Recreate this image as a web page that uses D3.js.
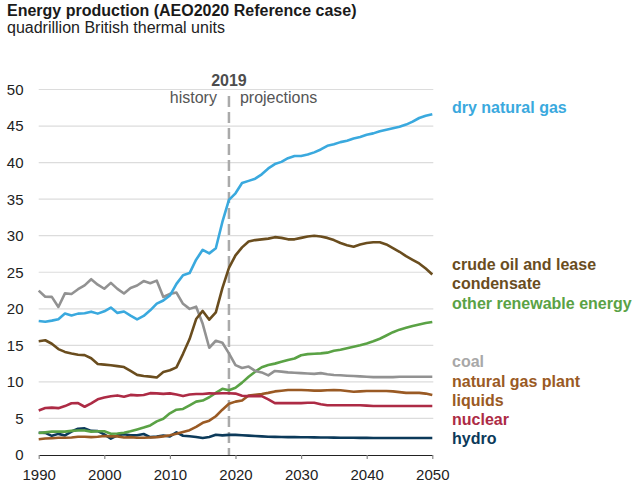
<!DOCTYPE html>
<html>
<head>
<meta charset="utf-8">
<script src="https://cdn.jsdelivr.net/npm/d3@7/dist/d3.min.js"></script>
<style>
  html, body { margin: 0; padding: 0; background: #fff; }
  svg { display: block; font-family: "Liberation Sans", Arial, Helvetica, sans-serif; }
</style>
</head>
<body>
<svg id="chart" width="634" height="490"></svg>
<script>
// ---------- DATA ----------
const years = d3.range(1990, 2051);
const xTickValues = [1990, 2000, 2010, 2020, 2030, 2040, 2050];
const yTickValues = [0, 5, 10, 15, 20, 25, 30, 35, 40, 45, 50];

const dryNaturalGas = [
  18.33, 18.23, 18.38, 18.58, 19.35, 19.08, 19.34, 19.39, 19.61, 19.34,
  19.66, 20.17, 19.44, 19.63, 19.07, 18.56, 19.02, 19.79, 20.70, 21.14,
  21.81, 23.41, 24.59, 24.89, 26.72, 28.07, 27.58, 28.29, 31.88, 34.9,
  35.8, 37.2, 37.5, 37.8, 38.4, 39.2, 39.8, 40.1, 40.6, 40.9,
  40.9, 41.1, 41.4, 41.8, 42.3, 42.5, 42.8, 43.0, 43.3, 43.5,
  43.8, 44.0, 44.3, 44.5, 44.7, 44.9, 45.2, 45.6, 46.1, 46.4, 46.6
];
const crudeOil = [
  15.57, 15.70, 15.22, 14.49, 14.10, 13.89, 13.72, 13.66, 13.24, 12.45,
  12.36, 12.28, 12.16, 12.03, 11.50, 10.96, 10.80, 10.72, 10.61, 11.34,
  11.59, 11.99, 13.84, 15.86, 18.60, 19.71, 18.51, 19.52, 22.83, 25.6,
  27.3, 28.4, 29.2, 29.4, 29.5, 29.6, 29.8, 29.7, 29.5, 29.5,
  29.7, 29.9, 30.0, 29.9, 29.7, 29.4, 29.0, 28.7, 28.5, 28.8,
  29.0, 29.1, 29.1, 28.8, 28.3, 27.8, 27.2, 26.7, 26.2, 25.5, 24.7
];
const otherRenewable = [
  3.0, 3.1, 3.2, 3.2, 3.2, 3.3, 3.35, 3.35, 3.2, 3.25,
  3.25, 2.9, 2.95, 3.05, 3.25, 3.5, 3.75, 4.05, 4.6, 4.95,
  5.7, 6.2, 6.3, 6.8, 7.3, 7.45, 7.9, 8.5, 9.05, 8.85,
  9.2, 9.9, 10.7, 11.4, 12.0, 12.3, 12.5, 12.75, 13.0, 13.2,
  13.65, 13.8, 13.85, 13.9, 14.0, 14.25, 14.4, 14.6, 14.8, 15.0,
  15.25, 15.55, 15.9, 16.35, 16.8, 17.15, 17.4, 17.65, 17.85, 18.05, 18.2
];
const coal = [
  22.49, 21.64, 21.63, 20.25, 22.11, 22.03, 22.68, 23.21, 24.05, 23.30,
  22.74, 23.55, 22.73, 22.09, 22.85, 23.19, 23.79, 23.49, 23.85, 21.62,
  22.04, 22.22, 20.68, 19.99, 20.29, 17.95, 14.67, 15.63, 15.36, 13.9,
  12.3, 11.9, 12.1, 11.5, 11.3, 10.9, 11.5, 11.4, 11.3, 11.25,
  11.2, 11.15, 11.1, 11.2, 11.05, 10.95, 10.9, 10.85, 10.8, 10.75,
  10.7, 10.65, 10.65, 10.65, 10.65, 10.7, 10.7, 10.7, 10.7, 10.7, 10.7
];
const ngPlantLiquids = [
  2.15, 2.25, 2.3, 2.35, 2.35, 2.4, 2.5, 2.5, 2.45, 2.5,
  2.6, 2.55, 2.55, 2.4, 2.45, 2.35, 2.35, 2.4, 2.45, 2.55,
  2.7, 2.9, 3.15, 3.4, 3.85, 4.4, 4.7, 5.3, 6.2, 7.0,
  7.3, 7.45, 8.15, 8.25, 8.35, 8.5, 8.7, 8.8, 8.9, 8.9,
  8.9, 8.85, 8.8, 8.8, 8.85, 8.9, 8.85, 8.75, 8.65, 8.7,
  8.75, 8.75, 8.75, 8.75, 8.7, 8.6, 8.5, 8.5, 8.5, 8.4, 8.2
];
const nuclear = [
  6.10, 6.42, 6.48, 6.41, 6.69, 7.08, 7.09, 6.60, 7.07, 7.61,
  7.86, 8.03, 8.15, 7.96, 8.22, 8.16, 8.21, 8.46, 8.43, 8.36,
  8.43, 8.27, 8.06, 8.27, 8.34, 8.34, 8.43, 8.42, 8.44, 8.45,
  8.4, 8.1, 8.05, 8.05, 8.05, 7.6, 7.1, 7.1, 7.1, 7.1,
  7.1, 7.15, 7.15, 6.95, 6.8, 6.8, 6.8, 6.8, 6.8, 6.8,
  6.75, 6.7, 6.7, 6.7, 6.7, 6.7, 6.7, 6.7, 6.7, 6.7, 6.7
];
const hydro = [
  3.05, 3.02, 2.62, 2.89, 2.68, 3.21, 3.59, 3.64, 3.30, 3.27,
  2.81, 2.24, 2.69, 2.83, 2.69, 2.70, 2.87, 2.45, 2.51, 2.67,
  2.54, 3.10, 2.63, 2.56, 2.47, 2.32, 2.47, 2.77, 2.69, 2.75,
  2.75, 2.7, 2.65, 2.6, 2.55, 2.5, 2.48, 2.46, 2.45, 2.44,
  2.43, 2.42, 2.41, 2.40, 2.39, 2.38, 2.37, 2.36, 2.35, 2.34,
  2.34, 2.33, 2.33, 2.33, 2.33, 2.33, 2.33, 2.33, 2.33, 2.33, 2.33
];
const seriesNames = ["hydro", "natural gas plant liquids", "other renewable energy", "nuclear", "coal", "crude oil and lease condensate", "dry natural gas"];
const seriesValues = [hydro, ngPlantLiquids, otherRenewable, nuclear, coal, crudeOil, dryNaturalGas];
const dividerYear = 2019;

// ---------- STYLE / LAYOUT ----------
const colors = {
  "dry natural gas": "#3aa9de",
  "crude oil and lease condensate": "#6a4d1e",
  "other renewable energy": "#5aa245",
  "coal": "#929292",
  "natural gas plant liquids": "#9a5a24",
  "nuclear": "#ad2b45",
  "hydro": "#0c3a5a"
};
const labelColors = Object.assign({}, colors, { "coal": "#a8a8a8" });
const labelLayout = [
  { key: "dry natural gas", lines: ["dry natural gas"], y: 113 },
  { key: "crude oil and lease condensate", lines: ["crude oil and lease", "condensate"], y: 270 },
  { key: "other renewable energy", lines: ["other renewable energy"], y: 309 },
  { key: "coal", lines: ["coal"], y: 367 },
  { key: "natural gas plant liquids", lines: ["natural gas plant", "liquids"], y: 387 },
  { key: "nuclear", lines: ["nuclear"], y: 425 },
  { key: "hydro", lines: ["hydro"], y: 444 }
];

const svg = d3.select("#chart");
const x = d3.scaleLinear().domain([1990, 2050]).range([38.7, 432.3]);
const y = d3.scaleLinear().domain([0, 50]).range([455, 89.5]);

// title
svg.append("text").attr("x", 7).attr("y", 16)
  .attr("font-size", 16).attr("font-weight", "bold").attr("fill", "#1a1a1a")
  .text("Energy production (AEO2020 Reference case)");
svg.append("text").attr("x", 7).attr("y", 33)
  .attr("font-size", 16).attr("fill", "#222")
  .text("quadrillion British thermal units");

// gridlines
svg.append("g").selectAll("line").data(yTickValues.filter(v => v > 0)).join("line")
  .attr("x1", x(1990)).attr("x2", x(2050) + 1)
  .attr("y1", d => y(d)).attr("y2", d => y(d))
  .attr("stroke", "#dcdcdc").attr("stroke-width", 1.2);

// y tick labels
svg.append("g").selectAll("text").data(yTickValues).join("text")
  .attr("x", 23.5).attr("y", d => y(d)).attr("dy", "0.36em")
  .attr("text-anchor", "end").attr("font-size", 15).attr("fill", "#222")
  .text(d => d);

// x axis
const xAxis = d3.axisBottom(x).tickValues(xTickValues).tickFormat(d3.format("d"))
  .tickSize(4).tickSizeOuter(0).tickPadding(10);
const gx = svg.append("g").attr("transform", `translate(0,${y(0)})`).call(xAxis);
gx.select(".domain").attr("stroke", "#222").attr("stroke-width", 1.2);
gx.selectAll(".tick line").attr("stroke", "#888").attr("stroke-width", 1.2);
gx.selectAll(".tick text").attr("font-size", 15).attr("fill", "#222")
  .attr("font-family", "Liberation Sans, Arial, sans-serif");

// divider
svg.append("line")
  .attr("x1", x(dividerYear)).attr("x2", x(dividerYear))
  .attr("y1", 96).attr("y2", y(0))
  .attr("stroke", "#aaaaaa").attr("stroke-width", 2.5)
  .attr("stroke-dasharray", "11,5");
svg.append("text").attr("x", x(dividerYear)).attr("y", 86)
  .attr("text-anchor", "middle").attr("font-size", 16).attr("font-weight", "bold")
  .attr("fill", "#4d4d4d").text(dividerYear);
svg.append("text").attr("x", x(dividerYear) - 12).attr("y", 103)
  .attr("text-anchor", "end").attr("font-size", 16).attr("fill", "#555").text("history");
svg.append("text").attr("x", x(dividerYear) + 11).attr("y", 103)
  .attr("text-anchor", "start").attr("font-size", 16).attr("fill", "#555").text("projections");

// lines
const line = d3.line().x((d, i) => x(years[i])).y(d => y(d));
seriesNames.forEach((name, k) => {
  svg.append("path").datum(seriesValues[k])
    .attr("fill", "none").attr("stroke", colors[name])
    .attr("stroke-width", 2.6).attr("stroke-linejoin", "round")
    .attr("d", line);
});

// labels
labelLayout.forEach(l => {
  const t = svg.append("text").attr("x", 452).attr("y", l.y)
    .attr("font-size", 16).attr("font-weight", "bold").attr("fill", labelColors[l.key]);
  l.lines.forEach((s, i) => {
    t.append("tspan").attr("x", 452).attr("dy", i === 0 ? 0 : 19).text(s);
  });
});
</script>
</body>
</html>
